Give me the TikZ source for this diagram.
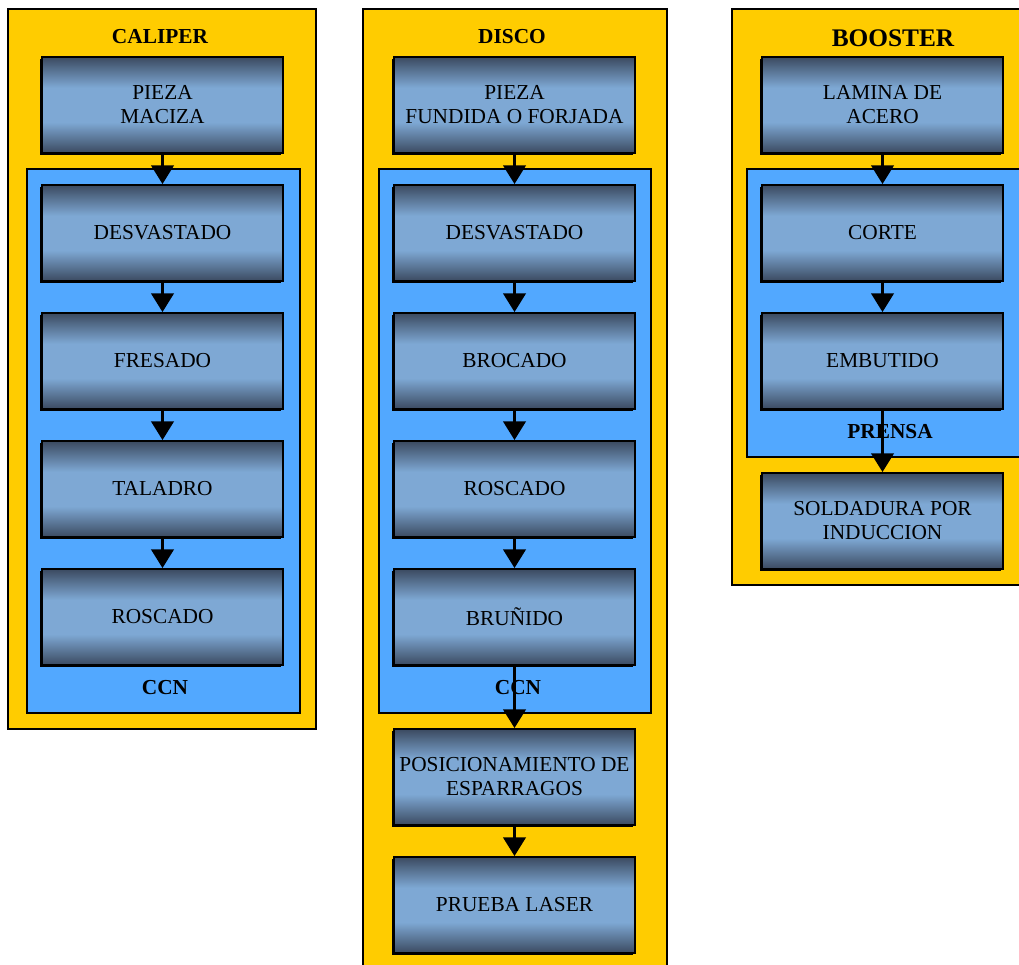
\documentclass[tikz,border=0pt]{standalone}
\usepackage{fontspec}
\setmainfont{Liberation Serif}
\usetikzlibrary{arrows.meta,shadows}

\definecolor{panelyellow}{HTML}{FFCC00}
\definecolor{groupblue}{HTML}{52A8FF}
\definecolor{stepdark}{HTML}{3B4A60}
\definecolor{steplight}{HTML}{7EA8D4}

% vertical steel gradient: dark edges, light band in the middle
\pgfdeclareverticalshading{steelband}{100bp}{
  color(0bp)=(stepdark); color(25bp)=(stepdark);
  color(41bp)=(steplight); color(59bp)=(steplight);
  color(75bp)=(stepdark); color(100bp)=(stepdark)}

\tikzset{
  panel/.style={draw=black, line width=1.5pt, fill=panelyellow},
  group/.style={draw=black, line width=1.5pt, fill=groupblue},
  stepbox/.style={rectangle, draw=black, line width=1.5pt,
    shading=steelband, minimum width=180.75pt, minimum height=72pt,
    inner sep=0pt, align=center, font=\fontsize{16}{18}\selectfont,
    general shadow={fill=black, shadow xshift=-1.5pt, shadow yshift=-1.5pt}},
  title/.style={font=\fontsize{16}{19}\selectfont\bfseries, inner sep=0pt},
  flow/.style={line width=1.6pt, -{Triangle[width=17pt,length=14pt]}}
}

\begin{document}
\begin{tikzpicture}[x=0.75pt, y=-0.75pt]
\useasboundingbox (0,0) rectangle (1019,964);
\fill[white] (0,0) rectangle (1019,964);

% ---------- CALIPER ----------
\draw[panel] (8,9) rectangle (316,729);
\draw[group] (27,169) rectangle (300,713);
\node[title] (tcal) at (160,37) {CALIPER};
\node[title] (ccn1) at (165,688) {CCN};
\node[stepbox] (c1) at (162.5,105) {PIEZA\\MACIZA};
\node[stepbox] (c2) at (162.5,233) {DESVASTADO};
\node[stepbox] (c3) at (162.5,361) {FRESADO};
\node[stepbox] (c4) at (162.5,489) {TALADRO};
\node[stepbox] (c5) at (162.5,617) {ROSCADO};
\draw[flow] (c1) -- (c2);
\draw[flow] (c2) -- (c3);
\draw[flow] (c3) -- (c4);
\draw[flow] (c4) -- (c5);

% ---------- DISCO ----------
\draw[panel] (363,9) rectangle (667,990);
\draw[group] (379,169) rectangle (651,713);
\node[title] (tdis) at (512,37) {DISCO};
\node[title] (ccn2) at (518,688) {CCN};
\node[stepbox] (d1) at (514.5,105) {PIEZA\\FUNDIDA O FORJADA};
\node[stepbox] (d2) at (514.5,233) {DESVASTADO};
\node[stepbox] (d3) at (514.5,361) {BROCADO};
\node[stepbox] (d4) at (514.5,489) {ROSCADO};
\node[stepbox] (d5) at (514.5,617) {BRUÑIDO};
\node[stepbox] (d6) at (514.5,777) {POSICIONAMIENTO DE\\ESPARRAGOS};
\node[stepbox] (d7) at (514.5,905) {PRUEBA LASER};
\draw[flow] (d1) -- (d2);
\draw[flow] (d2) -- (d3);
\draw[flow] (d3) -- (d4);
\draw[flow] (d4) -- (d5);
\draw[flow] (d5) -- (d6);
\draw[flow] (d6) -- (d7);

% ---------- BOOSTER ----------
\draw[panel] (732,9) rectangle (1030,585);
\draw[group] (747,169) rectangle (1030,457);
\node[title, font=\fontsize{19}{22}\selectfont\bfseries] (tboo) at (893,38) {BOOSTER};
\node[title] (prensa) at (890,432) {PRENSA};
\node[stepbox] (b1) at (882.5,105) {LAMINA DE\\ACERO};
\node[stepbox] (b2) at (882.5,233) {CORTE};
\node[stepbox] (b3) at (882.5,361) {EMBUTIDO};
\node[stepbox] (b4) at (882.5,521) {SOLDADURA POR\\INDUCCION};
\draw[flow] (b1) -- (b2);
\draw[flow] (b2) -- (b3);
\draw[flow] (b3) -- (b4);
\end{tikzpicture}
\end{document}
